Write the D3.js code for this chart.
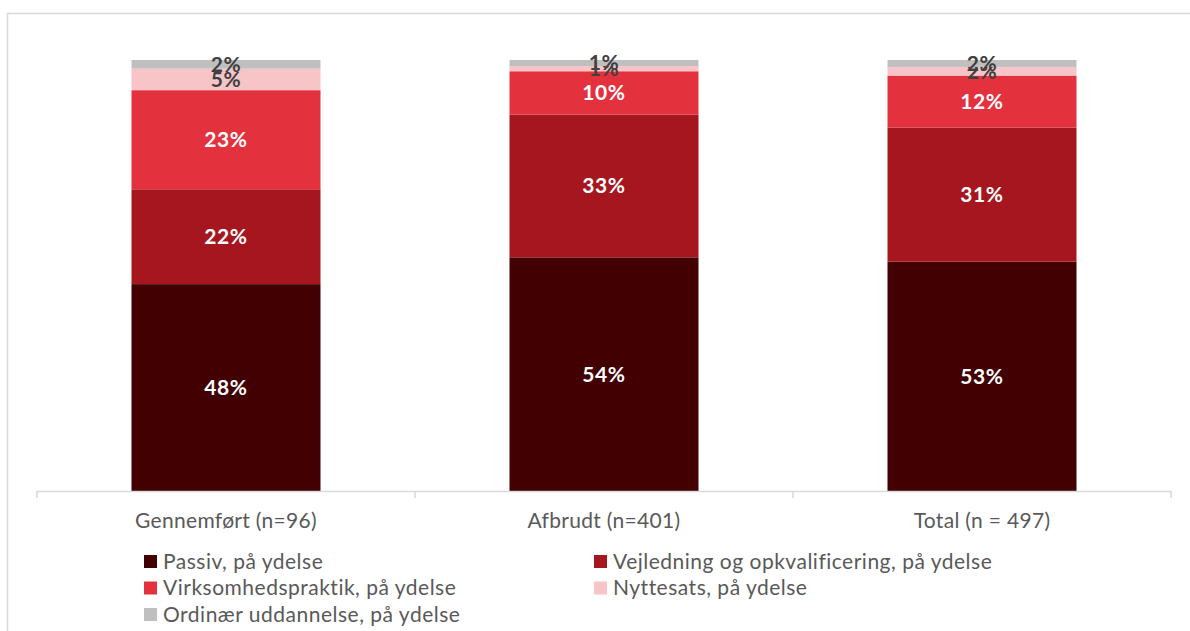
<!DOCTYPE html>
<html>
<head>
<meta charset="utf-8">
<script src="https://cdn.jsdelivr.net/npm/d3@7"></script>
<style>
  body { margin: 0; background: #fff; }
  svg { display: block; }
</style>
</head>
<body>
<svg></svg>
<script>
var width = 1190, height = 631;

// categories on the x axis
var groups = ["Gennemført (n=96)", "Afbrudt (n=401)", "Total (n = 497)"];
// series, bottom to top
var seriesNames = ["Passiv, på ydelse", "Vejledning og opkvalificering, på ydelse",
    "Virksomhedspraktik, på ydelse", "Nyttesats, på ydelse", "Ordinær uddannelse, på ydelse"];
var seriesColors = ["#420003", "#A5161F", "#E3313E", "#F7C5C8", "#BFBFBF"];
var labelColors = ["#fff", "#fff", "#fff", "#404040", "#404040"];
// percent values per series, one entry per group
var passiv = [48, 54, 53];
var vejledning = [22, 33, 31];
var virksomhed = [23, 10, 12];
var nyttesats = [5, 1.2, 2];
var ordinaer = [2, 1.4, 1.6];

var seriesValues = [passiv, vejledning, virksomhed, nyttesats, ordinaer];

var rows = groups.map(function (g, i) {
    var r = {group: g};
    seriesNames.forEach(function (s, j) { r[s] = seriesValues[j][i]; });
    return r;
});

var FONT = "Lato, 'Open Sans', sans-serif";

var svg = d3.select("svg").attr("width", width).attr("height", height);

// chart frame
svg.append("rect")
    .attr("x", 7.5).attr("y", 13.5)
    .attr("width", 1300).attr("height", 800)
    .attr("fill", "none")
    .attr("stroke", "#D9D9D9")
    .attr("stroke-width", 1.5);

var x = d3.scaleBand().domain(groups).range([37, 1171]).paddingInner(0.5).paddingOuter(0.25);
var y = d3.scaleLinear().domain([0, 1]).range([491, 60]);

var stack = d3.stack().keys(seriesNames).offset(d3.stackOffsetExpand);
var stacked = stack(rows);

var layers = svg.append("g").selectAll("g").data(stacked).enter()
    .append("g")
    .attr("fill", function (d, i) { return seriesColors[i]; });

layers.selectAll("rect").data(function (d) { return d; }).enter()
    .append("rect")
    .attr("x", function (d) { return x(d.data.group); })
    .attr("width", x.bandwidth())
    .attr("y", function (d) { return y(d[1]); })
    .attr("height", function (d) { return y(d[0]) - y(d[1]); });

// axis line + ticks
var axis = svg.append("g");
axis.append("line")
    .attr("x1", 37).attr("x2", 1171).attr("y1", 491.5).attr("y2", 491.5)
    .attr("stroke", "#D9D9D9").attr("stroke-width", 1.5);
d3.range(groups.length + 1).forEach(function (i) {
    var tx = 37 + i * (1134 / groups.length);
    axis.append("line")
        .attr("x1", tx).attr("x2", tx).attr("y1", 491).attr("y2", 498)
        .attr("stroke", "#D9D9D9").attr("stroke-width", 1.5);
});
axis.selectAll("text.cat").data(groups).enter()
    .append("text")
    .attr("class", "cat")
    .attr("x", function (d) { return x(d) + x.bandwidth() / 2; })
    .attr("y", 528)
    .attr("text-anchor", "middle")
    .attr("font-family", FONT)
    .attr("font-size", "21px")
    .attr("letter-spacing", "0.3px")
    .attr("fill", "#595959")
    .text(function (d) { return d; });

// data labels
var fmt = d3.format(".0%");
layers.each(function (layer, i) {
    d3.select(this).selectAll("text").data(layer).enter()
        .append("text")
        .attr("x", function (d) { return x(d.data.group) + x.bandwidth() / 2; })
        .attr("y", function (d) { return (y(d[0]) + y(d[1])) / 2; })
        .attr("dy", "0.35em")
        .attr("text-anchor", "middle")
        .attr("font-family", FONT)
        .attr("font-weight", "bold")
        .attr("font-size", "21px")
        .attr("letter-spacing", "0.6px")
        .attr("fill", labelColors[i])
        .text(function (d) { return fmt(d[1] - d[0]); });
});

// legend, two columns filled row by row
var legend = svg.append("g").selectAll("g").data(seriesNames).enter()
    .append("g")
    .attr("transform", function (d, i) {
        return "translate(" + (i % 2 ? 594 : 144) + "," + (555 + Math.floor(i / 2) * 26.5) + ")";
    });
legend.append("rect")
    .attr("width", 13).attr("height", 13)
    .attr("fill", function (d, i) { return seriesColors[i]; });
legend.append("text")
    .attr("x", 19).attr("y", 13.5)
    .attr("font-family", FONT)
    .attr("font-size", "21px")
    .attr("letter-spacing", "0.5px")
    .attr("fill", "#595959")
    .text(function (d) { return d; });
</script>
</body>
</html>
